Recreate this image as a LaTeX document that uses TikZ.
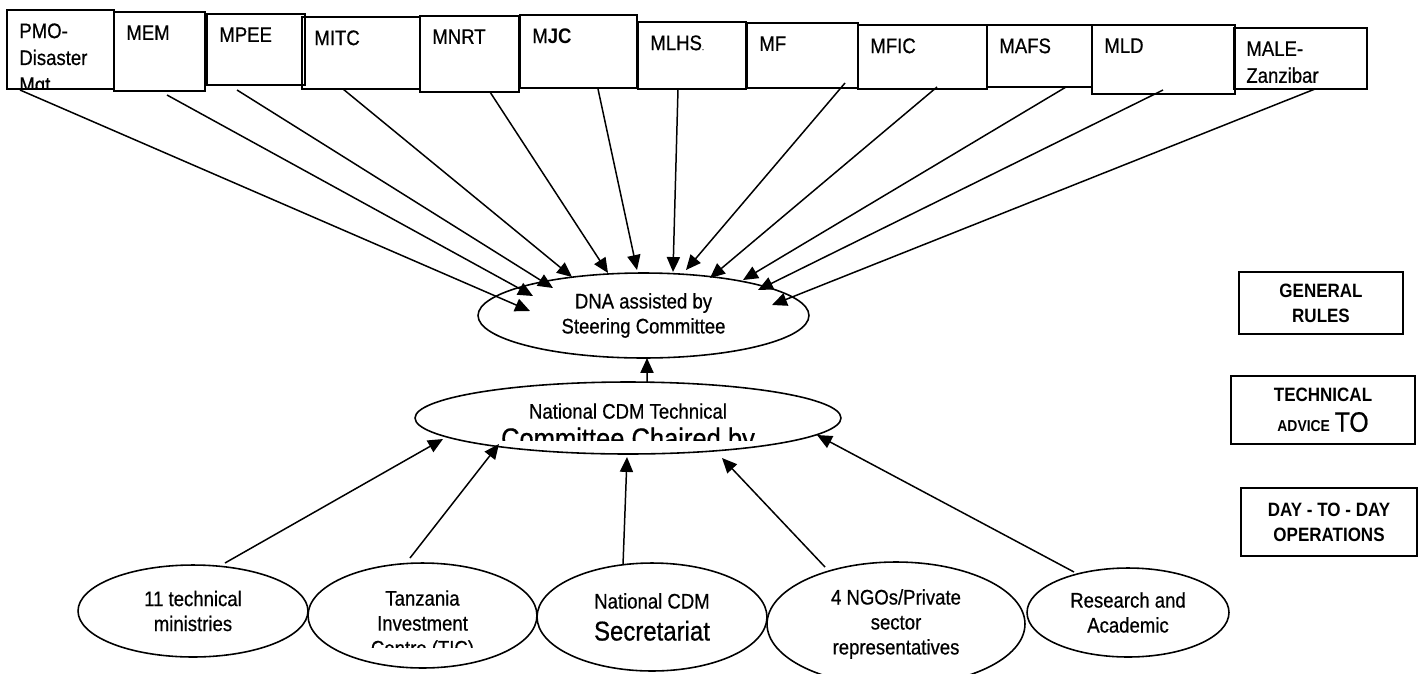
\documentclass[tikz,border=0pt]{standalone}
\usepackage{fontspec}
\setmainfont{Liberation Sans}[FakeStretch=0.88, UprightFeatures={FakeBold=0.6}]
\usetikzlibrary{shapes.geometric,arrows.meta,calc}

\begin{document}
\begin{tikzpicture}[x=0.02cm,y=-0.02cm,
  font=\fontsize{12}{14.2}\selectfont,
  ministry/.style={draw, line width=1.1pt, inner sep=0pt},
  boxtext/.style={anchor=north west, inner sep=0pt, align=left,
    xshift=0.26cm, yshift=-0.28cm, font=\fontsize{12}{15.3}\selectfont},
  council/.style={draw, ellipse, line width=0.9pt, inner sep=0pt, align=center},
  level/.style={draw, line width=0.9pt, inner sep=0pt, align=center,
    font=\fontsize{11}{14.2}\selectfont\bfseries},
  link/.style={-{Triangle[length=8.5pt,width=7.5pt]}, line width=0.85pt}]
  \useasboundingbox (0,0) rectangle (1422,673);

  % ministries along the top
  \node[ministry, minimum width=2.14cm, minimum height=1.58cm] (pmo) at (60.5,49.5) {};
  \begin{scope}
    \clip (pmo.south west) rectangle (pmo.north east);
    \node[boxtext] (pmotext) at (pmo.north west) {PMO-\\Disaster\\Mgt};
  \end{scope}
  \node[ministry, minimum width=1.82cm, minimum height=1.58cm,
    label={[boxtext]north west:MEM}] (mem) at (159.5,51.5) {};
  \node[ministry, minimum width=1.96cm, minimum height=1.42cm,
    label={[boxtext]north west:MPEE}] (mpee) at (256,49.5) {};
  \node[ministry, minimum width=2.36cm, minimum height=1.44cm,
    label={[boxtext]north west:MITC}] (mitc) at (361,53) {};
  \node[ministry, minimum width=1.98cm, minimum height=1.52cm,
    label={[boxtext]north west:MNRT}] (mnrt) at (469.5,54) {};
  \node[ministry, minimum width=2.34cm, minimum height=1.46cm,
    label={[boxtext]north west:M\textbf{JC}}] (mjc) at (578.5,51.5) {};
  \node[ministry, minimum width=2.16cm, minimum height=1.34cm,
    label={[boxtext]north west:MLHS{\tiny.}}] (mlhs) at (692,55.5) {};
  \node[ministry, minimum width=2.22cm, minimum height=1.30cm,
    label={[boxtext]north west:MF}] (mf) at (802.5,55.5) {};
  \node[ministry, minimum width=2.58cm, minimum height=1.28cm,
    label={[boxtext]north west:MFIC}] (mfic) at (922.5,57) {};
  \node[ministry, minimum width=2.10cm, minimum height=1.24cm,
    label={[boxtext]north west:MAFS}] (mafs) at (1039.5,56) {};
  \node[ministry, minimum width=2.86cm, minimum height=1.38cm,
    label={[boxtext]north west:MLD}] (mld) at (1163.5,59.5) {};
  \node[ministry, minimum width=2.66cm, minimum height=1.22cm,
    label={[boxtext]north west:MALE-\\Zanzibar}] (male) at (1300.5,58.5) {};

  % DNA and the technical committee
  \node[council, minimum width=6.62cm, minimum height=1.70cm] (dna) at (643.5,315.5)
    {DNA assisted by\\Steering Committee};
  \node[council, minimum width=8.52cm, minimum height=1.44cm] (cdm) at (628,418) {};
  \begin{scope}
    \clip (415,380) rectangle (841,440);
    \node[anchor=north, inner sep=0pt, align=center] (cdmtext) at (628,403)
      {National CDM Technical\\[2.8pt]{\fontsize{16.5}{19}\selectfont Committee Chaired by}};
  \end{scope}

  % members of the technical committee
  \node[council, minimum width=4.60cm, minimum height=1.84cm] (min) at (193,611)
    {11 technical\\ministries};
  \node[council, minimum width=4.58cm, minimum height=2.10cm] (tic) at (422.5,615.5) {};
  \begin{scope}
    \clip (300,560) rectangle (545,647);
    \node[anchor=north, inner sep=0pt, align=center] (tictext) at (422.5,590)
      {Tanzania\\Investment\\Centre (TIC)};
  \end{scope}
  \node[council, minimum width=4.60cm, minimum height=2.16cm] (sec) at (652,617)
    {National CDM\\[4pt]{\fontsize{15.5}{18}\selectfont Secretariat}};
  \node[council, minimum width=5.16cm, minimum height=2.48cm] (ngo) at (896,624)
    {4 NGOs/Private\\sector\\representatives};
  \node[council, minimum width=4.04cm, minimum height=1.78cm] (res) at (1128,612.5)
    {Research and\\Academic};

  % levels on the right
  \node[level, minimum width=3.28cm, minimum height=1.24cm] (rules) at (1321,303)
    {GENERAL\\RULES};
  \node[level, minimum width=3.68cm, minimum height=1.36cm] (tech) at (1323,410)
    {TECHNICAL\\[3pt]{\fontsize{9}{11}\selectfont ADVICE} {\mdseries\fontsize{16}{16}\selectfont TO}};
  \node[level, minimum width=3.52cm, minimum height=1.36cm] (day) at (1329,522)
    {DAY - TO - DAY\\OPERATIONS};

  % ministries to DNA
  \draw[link] ($(pmo)+(-40.5,40.5)$) -- ($(dna)+(-113.5,-4.5)$);
  \draw[link] ($(mem)+(7.5,43.5)$) -- ($(dna)+(-110.5,-19.5)$);
  \draw[link] ($(mpee)+(-19,40.5)$) -- ($(dna)+(-90.5,-27.5)$);
  \draw[link] ($(mitc)+(-18,36)$) -- ($(dna)+(-71.5,-38.5)$);
  \draw[link] ($(mnrt)+(20.5,38)$) -- ($(dna)+(-35.5,-42.5)$);
  \draw[link] ($(mjc)+(19.5,37.5)$) -- ($(dna)+(-6.5,-45.5)$);
  \draw[link] ($(mlhs)+(-14,33.5)$) -- ($(dna)+(29.5,-43.5)$);
  \draw[link] ($(mf)+(42.5,27.5)$) -- ($(dna)+(42.5,-45.5)$);
  \draw[link] ($(mfic)+(14.5,30)$) -- ($(dna)+(66.5,-37.5)$);
  \draw[link] ($(mafs)+(26.5,31)$) -- ($(dna)+(99.5,-35.5)$);
  \draw[link] ($(mld)+(-0.5,30.5)$) -- ($(dna)+(114.5,-25.5)$);
  \draw[link] ($(male)+(14.5,30.5)$) -- ($(dna)+(128.5,-10.5)$);

  % committee to DNA
  \draw[link] ($(cdm)+(19,-36)$) -- ($(dna)+(3.5,42.5)$);

  % members to committee
  \draw[link] ($(min)+(32,-48)$) -- ($(cdm)+(-185,21)$);
  \draw[link] ($(tic)+(-12.5,-57.5)$) -- ($(cdm)+(-129,26)$);
  \draw[link] ($(sec)+(-29,-52)$) -- ($(cdm)+(-1,39)$);
  \draw[link] ($(ngo)+(-71,-57)$) -- ($(cdm)+(94,40)$);
  \draw[link] ($(res)+(-54,-40.5)$) -- ($(cdm)+(189,17)$);
\end{tikzpicture}
\end{document}
